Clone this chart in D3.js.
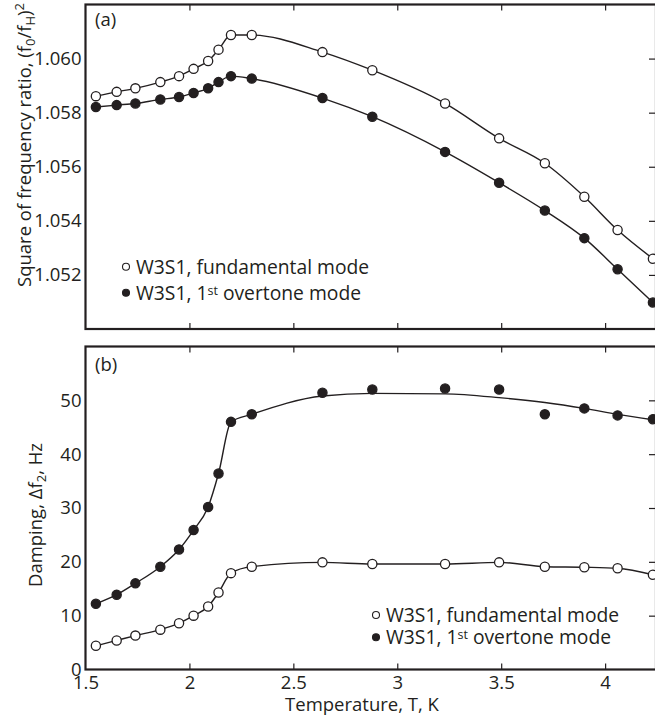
<!DOCTYPE html>
<html>
<head>
<meta charset="utf-8">
<script src="https://cdn.jsdelivr.net/npm/d3@7/dist/d3.min.js"></script>
<style>
  body { margin: 0; background: #fff; }
  svg { display: block; font-family: "Open Sans", sans-serif; }
  .axis text { font-size: 18.5px; fill: #231f20; font-family: "Open Sans", sans-serif; }
  .axis line { stroke: #231f20; stroke-width: 1.2; }
  .axis path { display: none; }
</style>
</head>
<body>
<div id="chart"></div>
<script>
// Temperature points (K), shared by both panels
const temps = [1.55, 1.65, 1.74, 1.86, 1.95, 2.02, 2.09, 2.14, 2.20, 2.30,
               2.64, 2.88, 3.23, 3.49, 3.71, 3.90, 4.06, 4.23];

// Panel (a): square of frequency ratio
const ratioFund = [1.05861, 1.05877, 1.05890, 1.05913, 1.05935, 1.05962, 1.05991, 1.06033, 1.06087, 1.06087,
                   1.06024, 1.05957, 1.05834, 1.05705, 1.05613, 1.05489, 1.05366, 1.05260];
const ratioOver = [1.05821, 1.05828, 1.05834, 1.05849, 1.05858, 1.05873, 1.05890, 1.05913, 1.05935, 1.05926,
                   1.05854, 1.05785, 1.05655, 1.05541, 1.05438, 1.05336, 1.05221, 1.05098];

// Panel (b): damping, Hz
const dampFund = [4.4, 5.4, 6.3, 7.4, 8.6, 10.0, 11.7, 14.3, 17.9, 19.1,
                  19.9, 19.6, 19.6, 19.9, 19.1, 19.0, 18.8, 17.6];
const dampOver = [12.2, 13.9, 16.0, 19.1, 22.3, 25.9, 30.2, 36.4, 46.0, 47.4,
                  51.4, 52.0, 52.2, 52.0, 47.4, 48.5, 47.2, 46.5];
const dampOverFit = [12.2, 13.9, 16.0, 19.1, 22.3, 25.9, 30.2, 36.4, 46.0, 47.4,
                     50.8, 51.3, 51.2, 50.5, 49.6, 48.5, 47.4, 46.4];

// Ticks
const xTicks = [1.5, 2, 2.5, 3, 3.5, 4];
const ratioTicks = [1.052, 1.054, 1.056, 1.058, 1.060];
const dampTicks = [0, 10, 20, 30, 40, 50];

const ink = "#231f20";
const width = 655, height = 718;
const left = 85.5, right = 656;

const svg = d3.select("#chart").append("svg")
    .attr("width", width)
    .attr("height", height);

const x = d3.scaleLinear().domain([1.5, 4.24]).range([left, 655]);

const yA = d3.scaleLinear().domain([1.050, 1.062]).range([329, 4.5]);
const yB = d3.scaleLinear().domain([0, 60]).range([669.5, 346.5]);

/**
 * Draw a framed panel with inward ticks
 */
function drawPanel(y, yTicks, yFormat, showXLabels) {
    const [bottom, top] = y.range();

    // x ticks along bottom edge (pointing up)
    svg.append("g").attr("class", "axis")
        .attr("transform", `translate(0,${bottom})`)
        .call(d3.axisBottom(x).tickValues(xTicks).tickSizeInner(-6).tickSizeOuter(0).tickPadding(6)
            .tickFormat(showXLabels ? d3.format("") : ""))
        .call(g => g.selectAll(".tick").filter(d => d === 1.5).select("line").remove());

    // x ticks along top edge (pointing down)
    svg.append("g").attr("class", "axis")
        .attr("transform", `translate(0,${top})`)
        .call(d3.axisTop(x).tickValues(xTicks.filter(d => d > 1.5)).tickSizeInner(-6).tickSizeOuter(0).tickFormat(""));

    // y labels on the left, no tick marks
    svg.append("g").attr("class", "axis")
        .attr("transform", `translate(${left},0)`)
        .call(d3.axisLeft(y).tickValues(yTicks).tickSize(0).tickPadding(4).tickFormat(yFormat));

    // y ticks on the right edge (pointing left)
    svg.append("g").attr("class", "axis")
        .attr("transform", `translate(655,0)`)
        .call(d3.axisRight(y).tickValues(yTicks.filter(d => d > y.domain()[0])).tickSizeInner(-6).tickSizeOuter(0).tickFormat(""));

    // frame
    svg.append("rect")
        .attr("x", left)
        .attr("y", top)
        .attr("width", right - left)
        .attr("height", bottom - top)
        .attr("fill", "none")
        .attr("stroke", ink)
        .attr("stroke-width", 2.2);
}

function drawSeries(y, values, lineValues, filled) {
    const line = d3.line()
        .x((d, i) => x(temps[i]))
        .y(d => y(d))
        .curve(d3.curveMonotoneX);

    svg.append("path")
        .datum(lineValues)
        .attr("d", line)
        .attr("fill", "none")
        .attr("stroke", ink)
        .attr("stroke-width", 1.4);

    svg.append("g")
        .selectAll("circle")
        .data(values)
        .join("circle")
        .attr("cx", (d, i) => x(temps[i]))
        .attr("cy", d => y(d))
        .attr("r", 4.6)
        .attr("fill", filled ? ink : "#fff")
        .attr("stroke", ink)
        .attr("stroke-width", 1.3);
}

function drawLegend(cx, y0, gap) {
    const rows = [
        { filled: false, parts: [["W3S1, fundamental mode", null]] },
        { filled: true, parts: [["W3S1, 1", null], ["st", "sup"], [" overtone mode", "back"]] }
    ];
    rows.forEach((row, i) => {
        const cy = y0 + i * gap;
        svg.append("circle")
            .attr("cx", cx)
            .attr("cy", cy)
            .attr("r", 3.5)
            .attr("fill", row.filled ? ink : "#fff")
            .attr("stroke", ink)
            .attr("stroke-width", 1.1);
        const t = svg.append("text")
            .attr("x", cx + 10)
            .attr("y", cy + 7)
            .attr("font-size", 19.3)
            .attr("fill", ink);
        row.parts.forEach(([s, kind]) => {
            const sp = t.append("tspan").text(s);
            if (kind === "sup") sp.attr("font-size", 12.5).attr("dy", -5);
            else if (kind === "back") sp.attr("dy", 5);
        });
    });
}

// Panel (a)
drawPanel(yA, ratioTicks, d3.format(".3f"), false);
drawSeries(yA, ratioFund, ratioFund, false);
drawSeries(yA, ratioOver, ratioOver, true);
drawLegend(126, 266.7, 26);

// Panel (b)
drawPanel(yB, dampTicks, d3.format("d"), true);
drawSeries(yB, dampFund, dampFund, false);
drawSeries(yB, dampOver, dampOverFit, true);
drawLegend(376, 615, 22.3);

// Panel letters
svg.append("text").attr("x", 95).attr("y", 26).attr("font-size", 18.5).attr("fill", ink).text("(a)");
svg.append("text").attr("x", 95).attr("y", 371).attr("font-size", 18.5).attr("fill", ink).text("(b)");

// Axis titles
const yTitleA = svg.append("text")
    .attr("transform", "translate(31,145) rotate(-90)")
    .attr("text-anchor", "middle")
    .attr("font-size", 18.5)
    .attr("fill", ink);
yTitleA.append("tspan").text("Square of frequency ratio, (f");
yTitleA.append("tspan").attr("font-size", 13).attr("dy", 4).text("0");
yTitleA.append("tspan").attr("dy", -4).text("/f");
yTitleA.append("tspan").attr("font-size", 13).attr("dy", 4).text("H");
yTitleA.append("tspan").attr("dy", -4).text(")");
yTitleA.append("tspan").attr("font-size", 13).attr("dy", -7).text("2");

const yTitleB = svg.append("text")
    .attr("transform", "translate(42,515) rotate(-90)")
    .attr("text-anchor", "middle")
    .attr("font-size", 18.5)
    .attr("fill", ink);
yTitleB.append("tspan").text("Damping, \u0394f");
yTitleB.append("tspan").attr("font-size", 13).attr("dy", 4).text("2");
yTitleB.append("tspan").attr("dy", -4).text(", Hz");

svg.append("text")
    .attr("x", 362)
    .attr("y", 711)
    .attr("text-anchor", "middle")
    .attr("font-size", 18.5)
    .attr("fill", ink)
    .text("Temperature, T, K");
</script>
</body>
</html>
